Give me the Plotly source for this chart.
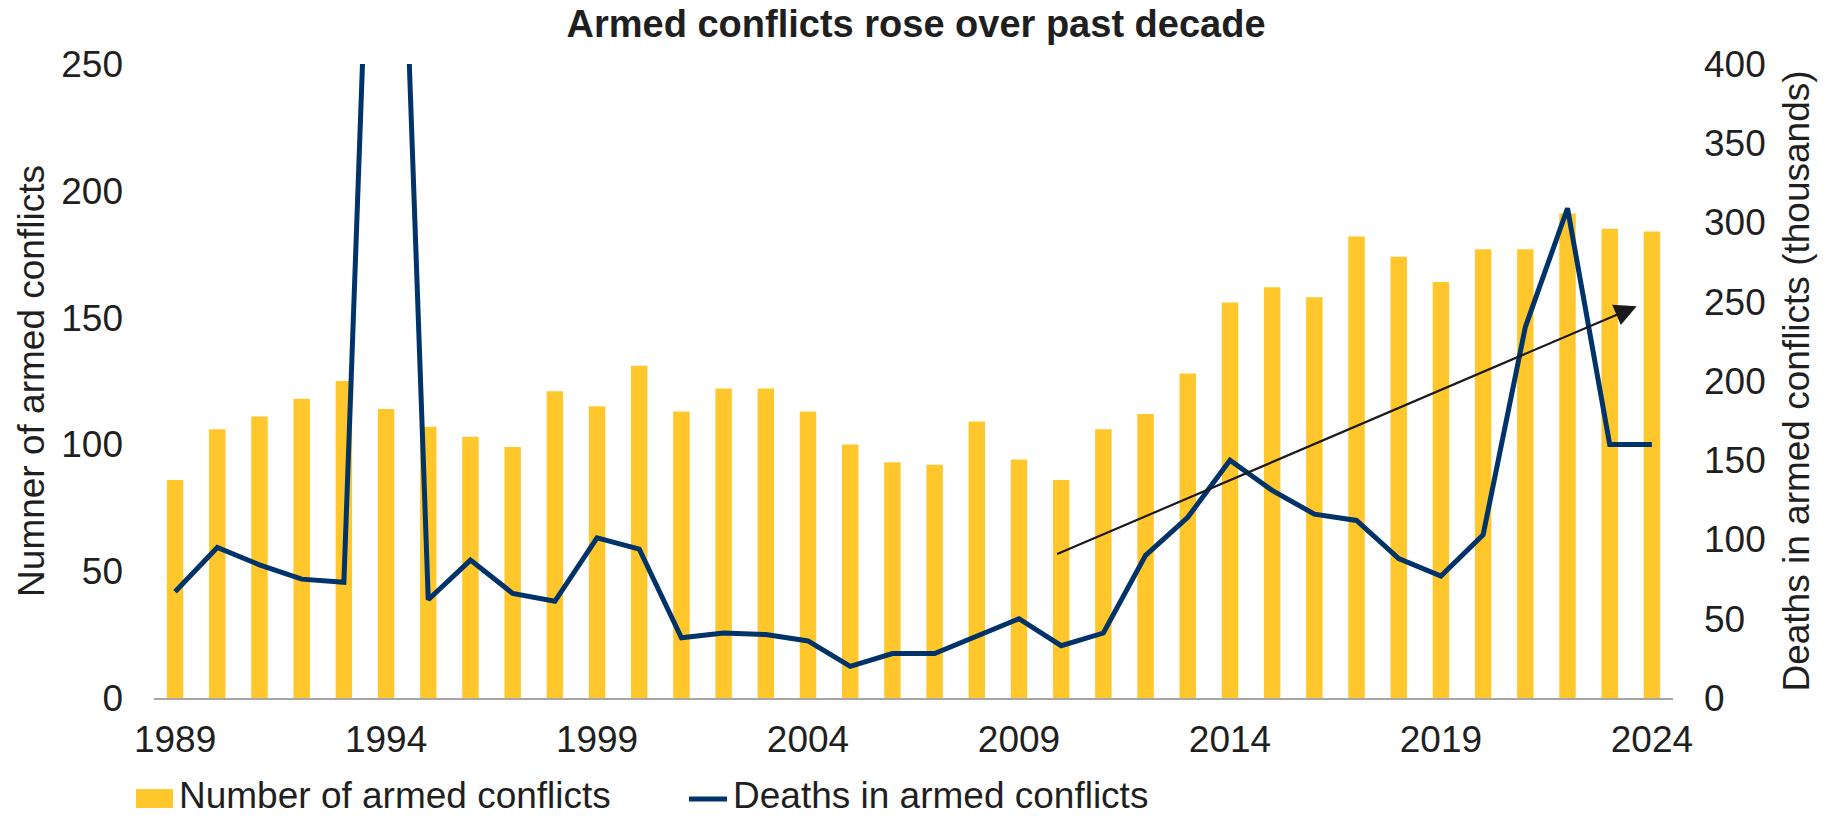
import plotly.graph_objects as go

years = list(range(1989, 2025))
conflicts = [86, 106, 111, 118, 125, 114, 107, 103, 99, 121, 115, 131, 113, 122, 122, 113,
             100, 93, 92, 109, 94, 86, 106, 112, 128, 156, 162, 158, 182, 174, 164, 177,
             177, 191, 185, 184]
deaths_k = [67, 95, 84, 75, 73, 815, 62, 87, 66, 61, 101, 94, 38, 41, 40, 36,
            20, 28, 28, 39, 50, 33, 41, 90, 114, 150, 131, 116, 112, 88, 77, 103,
            234, 309, 160, 160]
x_ticks = [1989, 1994, 1999, 2004, 2009, 2014, 2019, 2024]
left_ticks = [0, 50, 100, 150, 200, 250]
right_ticks = [0, 50, 100, 150, 200, 250, 300, 350, 400]
series_names = ["Number of armed conflicts", "Deaths in armed conflicts"]

# trend arrow (left-axis units)
arrow_start = (2009.87, 56.5)
arrow_end = (2023.64, 154.5)

BAR = "#FFC72C"
LINE = "#00336A"
TXT = "#1f1f1f"
FONT = "Liberation Sans, Arial, sans-serif"

# figure geometry (body margin removed via post_script)
W, H = 1827, 816
ML, MR, MT, MB = 154, 154, 64, 118
PW, PH = W - ML - MR, H - MT - MB


def px(fx):
    return (fx - ML) / PW


def py(fy):
    return (H - MB - fy) / PH


fig = go.Figure()
fig.add_trace(go.Bar(x=years, y=conflicts, name=series_names[0],
                     marker=dict(color=BAR, line=dict(width=0)), width=0.39, yaxis="y"))
fig.add_trace(go.Scatter(x=years, y=deaths_k, name=series_names[1],
                         mode="lines", line=dict(color=LINE, width=5), yaxis="y2"))

fig.add_annotation(x=arrow_end[0], y=arrow_end[1], ax=arrow_start[0], ay=arrow_start[1],
                   xref="x", yref="y", axref="x", ayref="y", text="", showarrow=True,
                   arrowhead=2, arrowsize=2.0, arrowwidth=2.2, arrowcolor="#1a1a1a")

# custom legend (wide swatch like the original)
fig.add_shape(type="rect", xref="paper", yref="paper",
              x0=px(136), x1=px(173), y0=py(808), y1=py(789),
              fillcolor=BAR, line=dict(width=0))
fig.add_annotation(xref="paper", yref="paper", x=px(177), y=py(795.5), xanchor="left",
                   yanchor="middle", text=series_names[0], showarrow=False,
                   font=dict(size=37, color=TXT))
fig.add_shape(type="line", xref="paper", yref="paper",
              x0=px(689), x1=px(727), y0=py(799), y1=py(799),
              line=dict(color=LINE, width=5))
fig.add_annotation(xref="paper", yref="paper", x=px(731), y=py(795.5), xanchor="left",
                   yanchor="middle", text=series_names[1], showarrow=False,
                   font=dict(size=37, color=TXT))

fig.update_layout(
    width=W, height=H,
    margin=dict(l=ML, r=MR, t=MT, b=MB, autoexpand=False),
    paper_bgcolor="white", plot_bgcolor="white",
    font=dict(family=FONT, size=37, color=TXT),
    title=dict(text="<b>Armed conflicts rose over past decade</b>", x=0.5014, xanchor="center",
               y=1 - 23.5 / H, yref="container", yanchor="middle", font=dict(size=38, color=TXT)),
    showlegend=False,
    hovermode=False,
    bargap=0.61,
    xaxis=dict(range=[1988.5, 2024.5], tickvals=x_ticks, ticktext=[str(t) for t in x_ticks],
               showgrid=False, zeroline=False, showline=True, linecolor="#a6a6a6", linewidth=1.5,
               ticks="", ticklabelstandoff=8, tickfont=dict(size=37, color=TXT),
               automargin=False),
    yaxis=dict(range=[0, 250], tickvals=left_ticks, showgrid=False, zeroline=False,
               showline=False, ticks="", ticklabelstandoff=30, tickfont=dict(size=37, color=TXT),
               automargin=False,
               title=dict(text="Numner of armed conflicts", standoff=5,
                          font=dict(size=37, color=TXT))),
    yaxis2=dict(range=[0, 400], tickvals=right_ticks, overlaying="y", side="right",
                showgrid=False, zeroline=False, showline=False, ticks="",
                ticklabelstandoff=30, tickfont=dict(size=37, color=TXT), automargin=False,
                title=dict(text="Deaths in armed conflicts (thousands)", standoff=18,
                           font=dict(size=37, color=TXT))),
)

fig.write_html("out.html", config={"displayModeBar": False},
               post_script="document.body.style.margin='0';document.body.style.overflow='hidden';")
